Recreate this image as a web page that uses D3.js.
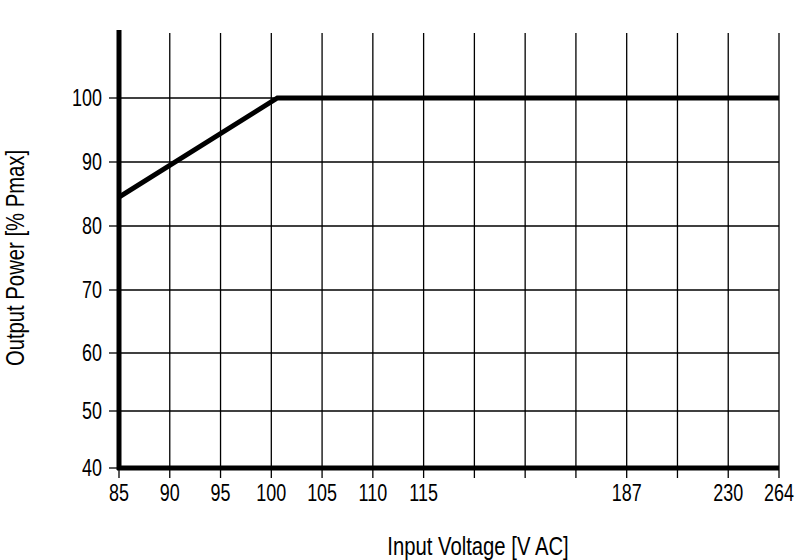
<!DOCTYPE html>
<html><head><meta charset="utf-8">
<script src="https://cdn.jsdelivr.net/npm/d3@7"></script>
<style>body{margin:0;background:#fff}text{font-family:"Liberation Sans",Arial,sans-serif}</style>
</head><body><svg id="c" width="800" height="560"></svg>
<script>
const xTickLabels = ["85","90","95","100","105","110","115","","","","187","","230","264"];
const xTickVolts = [85,90,95,100,105,110,115,null,null,null,187,null,230,264];
const yTicks = [40,50,60,70,80,90,100];
const lineVolts = [85,100.6,264];
const linePower = [84.5,100,100];

const svg = d3.select("#c");
const L=119,R=779,T=33,B=468;
const x = d3.scaleLinear().domain([0,13]).range([L,R]);
const y = d3.scaleLinear().domain([40,50,60,70,100]).range([B,411,353,290,98]);
const known = xTickVolts.map((v,i)=>[v,i]).filter(d=>d[0]!==null);
const vIdx = d3.scaleLinear().domain(known.map(d=>d[0])).range(known.map(d=>d[1]));
const sx = 0.78;
function ntext(sel,px,py){ // narrow text
  return sel.attr("transform",(d,i)=>`translate(${px(d,i)},${py(d,i)}) scale(${sx},1)`);
}
const g = svg.append("g");
g.selectAll(".vg").data(d3.range(14)).join("line")
 .attr("x1",d=>x(d)).attr("x2",d=>x(d)).attr("y1",T).attr("y2",B)
 .attr("stroke","#000").attr("stroke-width",1.3);
g.selectAll(".hg").data(yTicks.slice(1)).join("line")
 .attr("x1",L).attr("x2",R).attr("y1",d=>y(d)).attr("y2",d=>y(d))
 .attr("stroke","#000").attr("stroke-width",1.3);
g.append("line").attr("x1",L).attr("x2",L).attr("y1",T-3).attr("y2",B+2).attr("stroke","#000").attr("stroke-width",5);
g.append("line").attr("x1",L-2).attr("x2",R).attr("y1",B).attr("y2",B).attr("stroke","#000").attr("stroke-width",5);
g.selectAll(".yt").data(yTicks).join("line").attr("x1",L-10).attr("x2",L).attr("y1",d=>y(d)).attr("y2",d=>y(d)).attr("stroke","#000").attr("stroke-width",1.3);
g.selectAll(".xt").data(d3.range(14)).join("line").attr("x1",d=>x(d)).attr("x2",d=>x(d)).attr("y1",B).attr("y2",B+10).attr("stroke","#000").attr("stroke-width",1.3);
ntext(g.selectAll(".yl").data(yTicks).join("text").attr("text-anchor","end").attr("font-size",23).text(d=>d),()=>L-17,d=>y(d)+8);
ntext(g.selectAll(".xl").data(xTickLabels).join("text").attr("text-anchor","middle").attr("font-size",23).text(d=>d),(d,i)=>x(i),()=>B+33);
svg.append("text").attr("transform",`translate(478,555) scale(${sx},1)`).attr("text-anchor","middle").attr("font-size",26).text("Input Voltage [V AC]");
svg.append("text").attr("transform",`translate(24,258) rotate(-90) scale(${sx},1)`).attr("text-anchor","middle").attr("font-size",26).text("Output Power [% Pmax]");
const line = d3.line().x((d,i)=>x(vIdx(lineVolts[i]))).y(d=>y(d));
svg.append("path").datum(linePower).attr("d",line).attr("fill","none").attr("stroke","#000").attr("stroke-width",5);
</script></body></html>
